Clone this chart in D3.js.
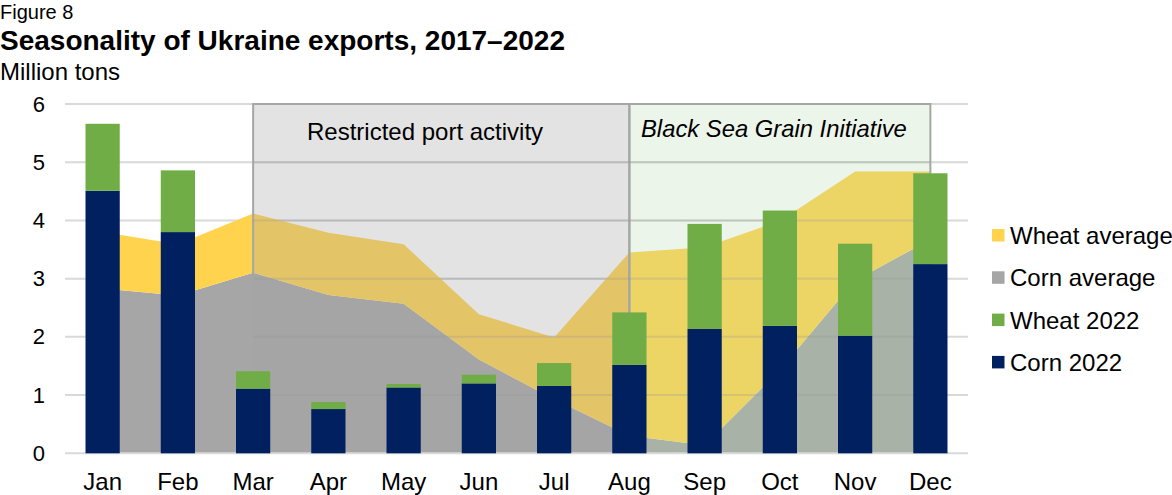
<!DOCTYPE html>
<html>
<head>
<meta charset="utf-8">
<script src="https://cdn.jsdelivr.net/npm/d3@7"></script>
<style>
  html, body { margin: 0; padding: 0; background: #fff; }
  svg { display: block; font-family: "Liberation Sans", Arial, Helvetica, sans-serif; }
</style>
</head>
<body>
<svg id="chart" width="1172" height="495"></svg>
<script>
// ---- data ----
const months = ["Jan","Feb","Mar","Apr","May","Jun","Jul","Aug","Sep","Oct","Nov","Dec"];
const corn2022  = [4.51, 3.80, 1.11, 0.76, 1.13, 1.20, 1.16, 1.52, 2.14, 2.19, 2.02, 3.25];
const wheat2022 = [1.15, 1.06, 0.30, 0.12, 0.06, 0.15, 0.39, 0.90, 1.80, 1.98, 1.58, 1.56];
const cornAverage  = [2.83, 2.71, 3.10, 2.72, 2.57, 1.61, 0.93, 0.30, 0.14, 1.43, 2.97, 3.67];
const wheatAverage = [0.97, 0.88, 1.02, 1.07, 1.02, 0.78, 1.06, 3.15, 3.40, 2.56, 1.87, 1.17];
const yTicks = [0, 1, 2, 3, 4, 5, 6];
const periods = [
  {label: "Restricted port activity", from: "Mar", to: "Aug", italic: false},
  {label: "Black Sea Grain Initiative", from: "Aug", to: "Dec", italic: true}
];
const legendItems = ["Wheat average", "Corn average", "Wheat 2022", "Corn 2022"];

// ---- styles ----
const colors = {
  "Wheat average": "#FFD34E",
  "Corn average": "#A6A6A6",
  "Wheat 2022": "#70AD47",
  "Corn 2022": "#002060"
};

const svg = d3.select("#chart");
const plot = {left: 65, right: 968, top: 104, bottom: 453.3};

const x = d3.scaleBand().domain(months).range([plot.left, plot.right])
  .paddingInner(0.545).paddingOuter(0.2725);
const cx = m => x(m) + x.bandwidth() / 2;
const y = d3.scaleLinear().domain([0, 6]).range([plot.bottom, plot.top]);

const rows = months.map((m, i) => ({
  month: m,
  cornAvg: cornAverage[i], wheatAvg: wheatAverage[i],
  corn: corn2022[i], wheat: wheat2022[i]
}));

// gridlines (base)
svg.append("g").selectAll("line").data(yTicks.filter(d => d > 0)).join("line")
  .attr("x1", plot.left).attr("x2", plot.right)
  .attr("y1", d => y(d)).attr("y2", d => y(d))
  .attr("stroke", "#D9D9D9").attr("stroke-width", 2);

// stacked averages as areas
const avgStack = d3.stack().keys(["cornAvg", "wheatAvg"])(rows);
const area = d3.area()
  .x(d => cx(d.data.month))
  .y0(d => y(d[0])).y1(d => y(d[1]));
svg.append("g").selectAll("path").data(avgStack).join("path")
  .attr("d", area)
  .attr("fill", d => d.key === "cornAvg" ? colors["Corn average"] : colors["Wheat average"]);

// shaded periods
const shade = svg.append("g");
periods.forEach((p, i) => {
  const x0 = cx(p.from), x1 = cx(p.to);
  shade.append("rect")
    .attr("x", x0).attr("y", y(6)).attr("width", x1 - x0).attr("height", y(0) - y(6))
    .attr("fill", i === 0 ? "rgba(163,163,163,0.30)" : "rgba(180,215,170,0.25)");
});
// faint gridlines visible inside shaded periods
const clipId = "shadeClip";
const cp = svg.append("defs").append("clipPath").attr("id", clipId);
periods.forEach(p => {
  cp.append("rect").attr("x", cx(p.from)).attr("y", y(6))
    .attr("width", cx(p.to) - cx(p.from)).attr("height", y(0) - y(6));
});
svg.append("g").attr("clip-path", `url(#${clipId})`)
  .selectAll("line").data(yTicks.filter(d => d > 0 && d < 6)).join("line")
  .attr("x1", plot.left).attr("x2", plot.right)
  .attr("y1", d => y(d)).attr("y2", d => y(d))
  .attr("stroke", "rgba(150,150,150,0.28)").attr("stroke-width", 2);
// borders of shaded periods
periods.forEach(p => {
  const x0 = cx(p.from), x1 = cx(p.to);
  shade.append("path")
    .attr("d", `M${x0},${y(0)}V${y(6)}H${x1}V${y(0)}`)
    .attr("fill", "none").attr("stroke", "#A6A6A6").attr("stroke-width", 2);
});

// zero line
svg.append("line")
  .attr("x1", plot.left).attr("x2", plot.right)
  .attr("y1", y(0)).attr("y2", y(0))
  .attr("stroke", "#D9D9D9").attr("stroke-width", 2);

// stacked bars 2022
const barStack = d3.stack().keys(["corn", "wheat"])(rows);
svg.append("g").selectAll("g").data(barStack).join("g")
  .attr("fill", d => d.key === "corn" ? colors["Corn 2022"] : colors["Wheat 2022"])
  .selectAll("rect").data(d => d).join("rect")
  .attr("x", d => x(d.data.month))
  .attr("width", x.bandwidth())
  .attr("y", d => y(d[1]))
  .attr("height", d => y(d[0]) - y(d[1]));

// period labels
periods.forEach((p, i) => {
  svg.append("text")
    .attr("x", i === 0 ? 307 : 641).attr("y", i === 0 ? 140 : 137)
    .attr("font-size", i === 0 ? 24 : 23.8)
    .attr("font-style", p.italic ? "italic" : "normal")
    .attr("fill", "#000")
    .text(p.label);
});

// axes
const yAxis = svg.append("g").attr("transform", `translate(${plot.left - 20},0)`)
  .call(d3.axisLeft(y).tickValues(yTicks).tickFormat(d3.format("d")).tickSize(0).tickPadding(0));
yAxis.select(".domain").remove();
yAxis.selectAll("text").attr("font-size", 22).attr("fill", "#000")
  .attr("font-family", "Liberation Sans, Arial, sans-serif");

const xAxis = svg.append("g").attr("transform", `translate(0,${plot.bottom})`)
  .call(d3.axisBottom(x).tickSize(0).tickPadding(0));
xAxis.select(".domain").remove();
xAxis.selectAll("text").attr("font-size", 24).attr("fill", "#000")
  .attr("y", 37).attr("dy", 0)
  .attr("font-family", "Liberation Sans, Arial, sans-serif");

// legend
const lg = svg.append("g").attr("transform", "translate(992,229)");
legendItems.forEach((k, i) => {
  const g = lg.append("g").attr("transform", `translate(0,${i * 42.3})`);
  g.append("rect").attr("width", 12.5).attr("height", 12.5).attr("fill", colors[k]);
  g.append("text").attr("x", 18).attr("y", 15).attr("font-size", 24).attr("fill", "#000").text(k);
});

// titles
svg.append("text").attr("x", 0).attr("y", 19).attr("font-size", 20).attr("fill", "#000").text("Figure 8");
svg.append("text").attr("x", 0).attr("y", 50).attr("font-size", 28).attr("font-weight", "bold").attr("fill", "#000")
  .text("Seasonality of Ukraine exports, 2017–2022");
svg.append("text").attr("x", 0).attr("y", 80).attr("font-size", 24).attr("fill", "#000").text("Million tons");
</script>
</body>
</html>
